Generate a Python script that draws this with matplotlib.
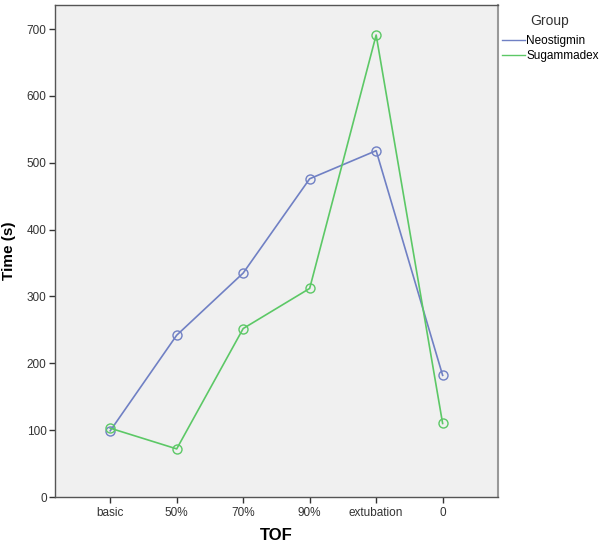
import numpy as np
import matplotlib.pyplot as plt

plt.rcParams['font.family'] = ['Liberation Sans', 'DejaVu Sans']

CATEGORIES = ["basic", "50%", "70%", "90%", "extubation", "0"]
NEOSTIGMIN = [99, 242, 335, 476, 518, 182]
SUGAMMADEX = [103, 72, 252, 312, 691, 110]
Y_TICKS = [0, 100, 200, 300, 400, 500, 600, 700]

BLUE = "#7080c4"
GREEN = "#5cc866"

fig = plt.figure(figsize=(6.0, 5.48), dpi=100)
ax = fig.add_axes([0.0917, 0.093, 0.738, 0.898])
ax.set_facecolor("#f0f0f0")

x = np.arange(len(CATEGORIES))
ax.plot(x, NEOSTIGMIN, color=BLUE, lw=1.2, marker="o", ms=6.5,
        mfc="none", mec=BLUE, mew=1.0, label="Neostigmin")
ax.plot(x, SUGAMMADEX, color=GREEN, lw=1.2, marker="o", ms=6.5,
        mfc="none", mec=GREEN, mew=1.0, label="Sugammadex")

ax.set_xlim(-0.83, 5.83)
ax.set_ylim(0, 736)
ax.set_xticks(x)
ax.set_xticklabels(CATEGORIES)
ax.set_yticks(Y_TICKS)
ax.tick_params(axis="both", labelsize=8.5, colors="#333333", length=4.5,
               width=1.0, direction="out")
ax.tick_params(axis="x", pad=2.5)
ax.tick_params(axis="y", pad=1.5)

for side in ["left", "bottom", "top"]:
    ax.spines[side].set_color("#555555")
    ax.spines[side].set_linewidth(1.0)
ax.spines["right"].set_color("#999999")
ax.spines["right"].set_linewidth(1.5)

ax.set_xlabel("TOF", fontsize=12, fontweight="bold", labelpad=7)
ax.set_ylabel("Time (s)", fontsize=11, fontweight="bold", labelpad=8)

fig.text(530 / 600, 1 - 21 / 548, "Group", fontsize=10, color="#333333",
         ha="left", va="center")
leg = ax.legend(loc="upper left", bbox_to_anchor=(502 / 600, 1 - 35 / 548),
                bbox_transform=fig.transFigure, frameon=False, fontsize=8.5,
                handlelength=1.95, handletextpad=0.1, labelspacing=0.25,
                borderpad=0, borderaxespad=0)
for h in leg.get_lines():
    h.set_marker("")
    h.set_linewidth(1.0)

fig.savefig("out.png", dpi=100)
